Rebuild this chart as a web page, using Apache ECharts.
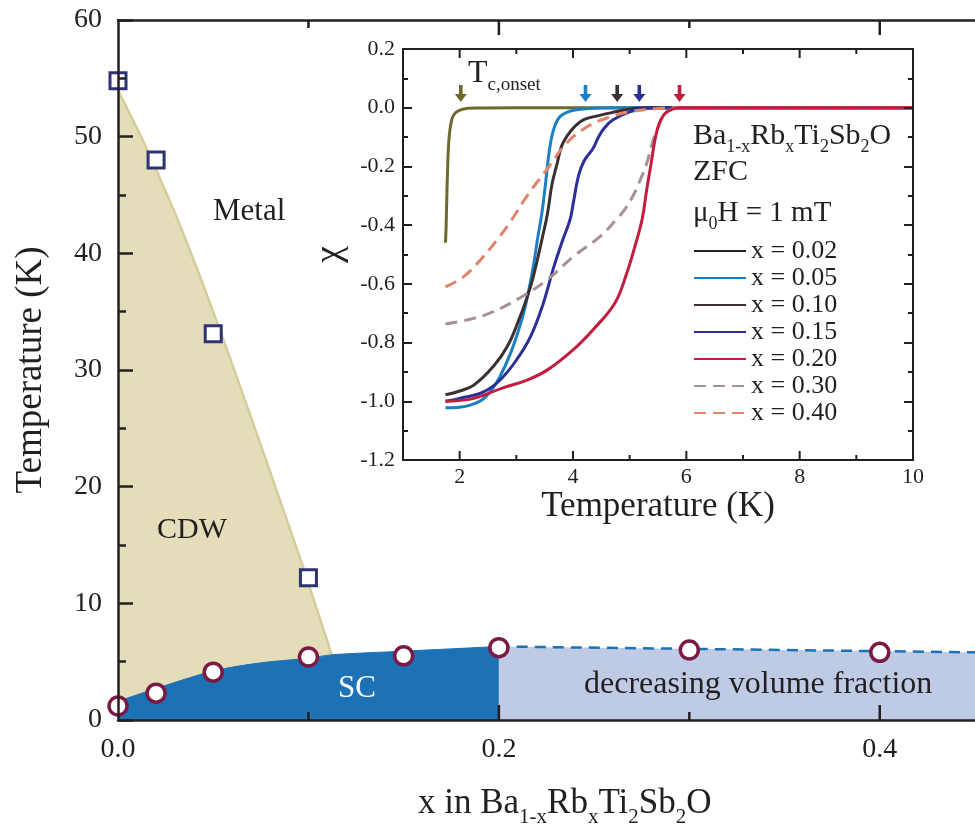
<!DOCTYPE html>
<html>
<head>
<meta charset="utf-8">
<script src="https://cdn.jsdelivr.net/npm/echarts@6/dist/echarts.min.js"></script>
<style>
  html, body { margin: 0; padding: 0; background: #fff; }
  #chart { width: 975px; height: 826px; }
</style>
</head>
<body>
<div id="chart"></div>
<script>
// ---- main phase diagram data (x in Ba1-xRbxTi2Sb2O, T in K) ----
const cdwX = [0, 0.02, 0.05, 0.10];
const cdwT = [54.8, 48.0, 33.1, 12.2];
const scX = [0, 0.02, 0.05, 0.10, 0.15, 0.20, 0.30, 0.40];
const scT = [1.2, 2.3, 4.1, 5.4, 5.5, 6.2, 6.0, 5.8];
// shaded regions
const cdwBoundary = [[0, 54], [0.015, 49], [0.036, 41], [0.06, 30.5], [0.096, 13.7], [0.112, 5.7], [0.116, 4]];
const scDome = [[0, 1.6], [0.02, 2.7], [0.05, 4.2], [0.075, 4.9], [0.1, 5.3], [0.113, 5.6], [0.15, 5.9], [0.2, 6.3]];
const scFading = [[0.2, 6.3], [0.3, 6.1], [0.4, 5.9], [0.45, 5.8]];

// main x axis ticks / labels
const mainXLabels = [0, 0.2, 0.4];
const mainXMajor = [0.2, 0.4];
const mainXMinor = [0.1, 0.3];

// ---- inset: chi(T), ZFC, 1 mT ----
const chi002 = [[1.75, -0.46], [1.76, -0.41], [1.77, -0.33], [1.79, -0.19], [1.81, -0.11], [1.84, -0.06], [1.88, -0.03], [1.94, -0.015], [2.05, -0.005], [2.3, -0.001], [3, 0], [10, 0]];
const chi005 = [[1.75, -1.022], [2.0, -1.02], [2.2, -1.012], [2.4, -0.995], [2.55, -0.965], [2.7, -0.92], [2.9, -0.835], [3.1, -0.72], [3.2, -0.64], [3.3, -0.54], [3.38, -0.44], [3.45, -0.36], [3.52, -0.25], [3.58, -0.15], [3.65, -0.08], [3.75, -0.035], [3.9, -0.015], [4.1, -0.006], [4.5, -0.001], [5, 0], [10, 0]];
const chi010 = [[1.75, -0.978], [2.0, -0.965], [2.25, -0.945], [2.6, -0.88], [2.85, -0.81], [3.05, -0.72], [3.2, -0.64], [3.3, -0.575], [3.45, -0.45], [3.55, -0.36], [3.63, -0.26], [3.72, -0.19], [3.8, -0.13], [3.9, -0.095], [4.05, -0.06], [4.2, -0.04], [4.45, -0.027], [4.75, -0.014], [5.0, -0.004], [5.3, 0], [10, 0]];
const chi015 = [[1.75, -1.0], [2.0, -0.99], [2.4, -0.97], [2.7, -0.93], [3.0, -0.86], [3.25, -0.78], [3.47, -0.67], [3.65, -0.55], [3.82, -0.45], [3.95, -0.38], [4.0, -0.33], [4.1, -0.23], [4.2, -0.18], [4.35, -0.14], [4.45, -0.1], [4.55, -0.07], [4.7, -0.042], [5.0, -0.014], [5.3, -0.002], [5.6, 0], [10, 0]];
const chi020 = [[1.75, -1.0], [2.25, -0.99], [2.75, -0.955], [3.2, -0.927], [3.55, -0.893], [4.0, -0.825], [4.35, -0.757], [4.74, -0.665], [4.95, -0.563], [5.09, -0.474], [5.22, -0.38], [5.3, -0.28], [5.37, -0.2], [5.48, -0.08], [5.6, -0.025], [5.75, -0.005], [5.9, 0], [10, 0]];
const chi030 = [[1.75, -0.737], [2.13, -0.723], [2.53, -0.70], [3.06, -0.648], [3.54, -0.587], [4.0, -0.508], [4.47, -0.44], [4.77, -0.38], [4.9, -0.35], [5.06, -0.3], [5.2, -0.24], [5.3, -0.19], [5.4, -0.12], [5.48, -0.076], [5.6, -0.025], [5.75, -0.003], [5.9, 0], [10, 0]];
const chi040 = [[1.75, -0.61], [2.06, -0.577], [2.36, -0.52], [2.66, -0.45], [2.89, -0.39], [3.19, -0.30], [3.54, -0.21], [3.89, -0.12], [4.24, -0.066], [4.6, -0.035], [5.0, -0.014], [5.48, -0.003], [5.8, 0], [10, 0]];

// onset arrows
const onsetT = [2.02, 4.22, 4.78, 5.17, 5.88];
const onsetChi = 0.048;

// inset x ticks / labels
const insetXLabels = [2, 4, 6, 8, 10];
const insetXMajor = [2, 4, 6, 8];
const insetXMinor = [3, 5, 7, 9];

const FONT = '"Liberation Serif", "Times New Roman", serif';
const INK = '#231f20';

const insetColors = {
    'x = 0.02': '#6d6a2d',
    'x = 0.05': '#1b7fc6',
    'x = 0.10': '#3a2f31',
    'x = 0.15': '#2b2f96',
    'x = 0.20': '#c21d3e',
    'x = 0.30': '#a69292',
    'x = 0.40': '#e0846a'
};
const onsetColors = ['#6d6a2d', '#1b7fc6', '#3a2f31', '#2b2f96', '#c21d3e'];

// x axis: line (and optionally labels), ticks are drawn by tickSeries below
function xAxisPart(grid, pos, min, max, width, opts) {
    return Object.assign({
        type: 'value', gridIndex: grid, position: pos, min: min, max: max, z: 10,
        axisLine: { show: true, onZero: false, lineStyle: { color: INK, width: width } },
        axisTick: { show: false },
        axisLabel: { show: false },
        splitLine: { show: false }
    }, opts || {});
}

// short vertical tick marks at the given x values, placed on an axis edge
// len > 0 points up (bottom axis), len < 0 points down (top axis)
function tickSeries(xi, yi, values, edge, len, width) {
    return {
        type: 'custom',
        xAxisIndex: xi,
        yAxisIndex: yi,
        data: values.map(v => [v, edge]),
        silent: true,
        clip: false,
        z: 10,
        renderItem: function (params, api) {
            const p = api.coord([api.value(0), api.value(1)]);
            return {
                type: 'line',
                shape: { x1: p[0], y1: p[1], x2: p[0], y2: p[1] - len },
                style: { stroke: INK, lineWidth: width }
            };
        }
    };
}

function rich(size, subSize, lh) {
    return {
        n: { fontFamily: FONT, fontSize: size, fontWeight: 'normal', color: INK, lineHeight: lh },
        s: { fontFamily: FONT, fontSize: subSize, fontWeight: 'normal', color: INK, lineHeight: subSize, verticalAlign: 'bottom' }
    };
}

function plainText(text, left, top, size, color) {
    return {
        text: text, left: left, top: top, padding: 0,
        textStyle: { fontFamily: FONT, fontSize: size, fontWeight: 'normal', color: color || INK }
    };
}

const chart = echarts.init(document.getElementById('chart'));

const insetSeries = [
    ['x = 0.02', chi002, 'solid'],
    ['x = 0.05', chi005, 'solid'],
    ['x = 0.10', chi010, 'solid'],
    ['x = 0.15', chi015, 'solid'],
    ['x = 0.30', chi030, [12, 7]],
    ['x = 0.40', chi040, [12, 7]],
    ['x = 0.20', chi020, 'solid']
].map(([name, data, type]) => ({
    name: name,
    type: 'line',
    xAxisIndex: 2,
    yAxisIndex: 1,
    data: data,
    symbol: 'none',
    smooth: 0.4,
    color: insetColors[name],
    lineStyle: { width: 3, type: type, color: insetColors[name] },
    z: 4
}));

const option = {
    animation: false,
    backgroundColor: '#fff',
    textStyle: { fontFamily: FONT, color: INK },
    grid: [
        { left: 118, top: 20, right: -9, bottom: 106 },
        { left: 403, top: 49, width: 510, height: 411, show: true, backgroundColor: '#fff', borderWidth: 0 }
    ],
    xAxis: [
        xAxisPart(0, 'bottom', 0, 0.45, 2.5, {
            axisLabel: {
                show: true, customValues: mainXLabels, margin: 16,
                fontFamily: FONT, fontSize: 28, color: INK,
                formatter: v => v.toFixed(1)
            }
        }),
        xAxisPart(0, 'top', 0, 0.45, 2.5),
        xAxisPart(1, 'bottom', 1, 10, 2, {
            axisLabel: {
                show: true, customValues: insetXLabels, margin: 6,
                fontFamily: FONT, fontSize: 22, color: INK
            },
            name: 'Temperature (K)',
            nameLocation: 'middle',
            nameGap: 28,
            nameTextStyle: { fontFamily: FONT, fontSize: 35, color: INK }
        }),
        xAxisPart(1, 'top', 1, 10, 2)
    ],
    yAxis: [
        {
            type: 'value', gridIndex: 0, min: 0, max: 60, interval: 10, z: 10,
            axisLine: { show: true, onZero: false, lineStyle: { color: INK, width: 2.5 } },
            axisTick: { inside: true, length: 15, lineStyle: { color: INK, width: 2.5 } },
            minorTick: { show: true, splitNumber: 2, length: 8, lineStyle: { color: INK, width: 2.5 } },
            axisLabel: { margin: 16, fontFamily: FONT, fontSize: 28, color: INK },
            splitLine: { show: false },
            name: 'Temperature (K)',
            nameLocation: 'middle',
            nameGap: 68,
            nameTextStyle: { fontFamily: FONT, fontSize: 37, color: INK }
        },
        {
            type: 'value', gridIndex: 1, min: -1.2, max: 0.2, interval: 0.2, z: 10,
            axisLine: { show: true, onZero: false, lineStyle: { color: INK, width: 2 } },
            axisTick: { inside: true, length: 9, lineStyle: { color: INK, width: 2 } },
            minorTick: { show: true, splitNumber: 2, length: 5, lineStyle: { color: INK, width: 2 } },
            axisLabel: {
                margin: 8, fontFamily: FONT, fontSize: 22, color: INK,
                formatter: v => (Math.abs(v) < 1e-9 ? 0 : v).toFixed(1)
            },
            splitLine: { show: false },
            name: 'χ',
            nameLocation: 'middle',
            nameGap: 38,
            nameTextStyle: { fontFamily: FONT, fontSize: 38, color: INK }
        },
        {
            type: 'value', gridIndex: 1, position: 'right', min: -1.2, max: 0.2, interval: 0.2, z: 10,
            axisLine: { show: true, onZero: false, lineStyle: { color: INK, width: 2 } },
            axisTick: { inside: true, length: 9, lineStyle: { color: INK, width: 2 } },
            minorTick: { show: true, splitNumber: 2, length: 5, lineStyle: { color: INK, width: 2 } },
            axisLabel: { show: false },
            splitLine: { show: false }
        }
    ],
    legend: {
        orient: 'vertical',
        left: 693,
        top: 238,
        padding: 0,
        itemWidth: 52,
        itemHeight: 12,
        itemGap: 1,
        selectedMode: false,
        itemStyle: { opacity: 0 },
        textStyle: { fontFamily: FONT, fontSize: 26, color: INK, lineHeight: 25 },
        data: [
            { name: 'x = 0.02', lineStyle: { color: INK } },
            'x = 0.05', 'x = 0.10', 'x = 0.15', 'x = 0.20', 'x = 0.30', 'x = 0.40'
        ]
    },
    title: [
        {
            text: '{n|x in Ba}{s|1-x}{n|Rb}{s|x}{n|Ti}{s|2}{n|Sb}{s|2}{n|O}',
            left: 418, top: 780, padding: 0,
            textStyle: { rich: rich(35, 21, 48) }
        },
        {
            text: '{n|Ba}{s|1-x}{n|Rb}{s|x}{n|Ti}{s|2}{n|Sb}{s|2}{n|O}',
            left: 693, top: 116, padding: 0,
            textStyle: { rich: rich(30, 18, 40) }
        },
        plainText('ZFC', 693, 157, 30),
        {
            text: '{n|μ}{s|0}{n|H = 1 mT}',
            left: 693, top: 193, padding: 0,
            textStyle: { rich: rich(29, 18, 40) }
        },
        {
            text: '{n|T}{s|c,onset}',
            left: 468, top: 53, padding: 0,
            textStyle: { rich: rich(32, 19, 42) }
        },
        plainText('Metal', 213, 196, 31),
        plainText('CDW', 157, 515, 30),
        plainText('SC', 338, 673, 31, '#ffffff'),
        plainText('decreasing volume fraction', 584, 669, 32)
    ],
    series: [
        {
            name: 'CDW region',
            type: 'line',
            xAxisIndex: 0, yAxisIndex: 0,
            data: cdwBoundary,
            symbol: 'none',
            smooth: 0.2,
            lineStyle: { color: '#d6cd9a', width: 2.5 },
            areaStyle: { color: '#e4ddb9', opacity: 1 },
            z: 1
        },
        {
            name: 'SC region',
            type: 'line',
            xAxisIndex: 0, yAxisIndex: 0,
            data: scDome,
            symbol: 'none',
            smooth: 0.3,
            lineStyle: { color: '#1d71b5', width: 1 },
            areaStyle: { color: '#1d71b5', opacity: 1 },
            z: 2
        },
        {
            name: 'decreasing fraction',
            type: 'line',
            xAxisIndex: 0, yAxisIndex: 0,
            data: scFading,
            symbol: 'none',
            smooth: 0.3,
            lineStyle: { color: '#1d71b5', width: 2.5, type: [11, 7] },
            areaStyle: { color: '#bfcbe5', opacity: 1 },
            z: 2
        },
        {
            name: 'T_CDW',
            type: 'scatter',
            xAxisIndex: 0, yAxisIndex: 0,
            data: cdwX.map((x, i) => [x, cdwT[i]]),
            symbol: 'rect',
            symbolSize: 16,
            itemStyle: { color: '#ffffff', borderColor: '#2e3373', borderWidth: 3, opacity: 1 },
            z: 5
        },
        {
            name: 'T_c',
            type: 'scatter',
            xAxisIndex: 0, yAxisIndex: 0,
            data: scX.map((x, i) => [x, scT[i]]),
            symbol: 'circle',
            symbolSize: 18,
            itemStyle: { color: '#ffffff', borderColor: '#7b1a45', borderWidth: 3.5, opacity: 1 },
            z: 5
        },
        ...insetSeries,
        {
            name: 'onset',
            type: 'scatter',
            xAxisIndex: 2, yAxisIndex: 1,
            data: onsetT.map((t, i) => ({ value: [t, onsetChi], itemStyle: { color: onsetColors[i] } })),
            symbol: 'path://M3.5,0 L6.5,0 L6.5,9 L10,9 L5,17 L0,9 L3.5,9 Z',
            symbolSize: [12, 17],
            itemStyle: { opacity: 1 },
            z: 6
        },
        // x axis ticks (inside), main plot: bottom edge T = 0, top edge T = 60
        tickSeries(0, 0, mainXMajor, 0, 15, 2.5),
        tickSeries(0, 0, mainXMinor, 0, 8, 2.5),
        tickSeries(0, 0, mainXMajor, 60, -15, 2.5),
        tickSeries(0, 0, mainXMinor, 60, -8, 2.5),
        // inset: bottom edge chi = -1.2, top edge chi = 0.2
        tickSeries(2, 1, insetXMajor, -1.2, 9, 2),
        tickSeries(2, 1, insetXMinor, -1.2, 5, 2),
        tickSeries(2, 1, insetXMajor, 0.2, -9, 2),
        tickSeries(2, 1, insetXMinor, 0.2, -5, 2)
    ]
};

chart.setOption(option);
</script>
</body>
</html>
